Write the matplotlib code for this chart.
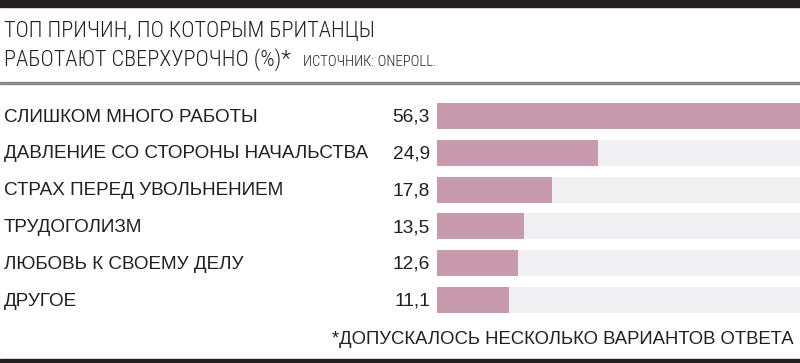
import matplotlib
matplotlib.use("Agg")
import matplotlib.pyplot as plt
from matplotlib import font_manager as fm
from matplotlib.transforms import blended_transform_factory
from matplotlib.patches import Rectangle

categories = ["СЛИШКОМ МНОГО РАБОТЫ", "ДАВЛЕНИЕ СО СТОРОНЫ НАЧАЛЬСТВА",
              "СТРАХ ПЕРЕД УВОЛЬНЕНИЕМ", "ТРУДОГОЛИЗМ",
              "ЛЮБОВЬ К СВОЕМУ ДЕЛУ", "ДРУГОЕ"]
values = [56.3, 24.9, 17.8, 13.5, 12.6, 11.1]
value_labels = ["56,3", "24,9", "17,8", "13,5", "12,6", "11,1"]
title_lines = ["ТОП ПРИЧИН, ПО КОТОРЫМ БРИТАНЦЫ", "РАБОТАЮТ СВЕРХУРОЧНО (%)*"]
source = "ИСТОЧНИК: ONEPOLL."
footnote = "*ДОПУСКАЛОСЬ НЕСКОЛЬКО ВАРИАНТОВ ОТВЕТА"

names = {f.name for f in fm.fontManager.ttflist}
narrow = "Liberation Sans Narrow" if "Liberation Sans Narrow" in names else "Roboto Condensed" if "Roboto Condensed" in names else "Liberation Sans"
body = "Liberation Sans"

W, H = 800, 363
fig = plt.figure(figsize=(W / 100, H / 100), dpi=100)
fig.patch.set_facecolor("white")
renderer = fig.canvas.get_renderer()

def fx(px):
    return px / W

def fy(py):
    return 1 - py / H

def width_px(t):
    return t.get_window_extent(renderer=renderer).width

# top black bar, separator, bottom line
fig.patches.append(Rectangle((0, fy(7)), 1, 7 / H, transform=fig.transFigure, color="#231f20"))
fig.patches.append(Rectangle((0, fy(84)), 1, 2 / H, transform=fig.transFigure, color="#8a8a8a"))
fig.patches.append(Rectangle((0, 0), 1, 4 / H, transform=fig.transFigure, color="#231f20"))

t1 = fig.text(fx(4), fy(37), title_lines[0], fontsize=17, family=narrow, weight="light", color="#231f20", va="baseline")
fs = min(17.0, 17 * 372 / width_px(t1))
t1.set_fontsize(fs)
t2 = fig.text(fx(4), fy(66), title_lines[1], fontsize=fs, family=narrow, weight="light", color="#231f20", va="baseline")
end2 = 4 + width_px(t2)
ts = fig.text(fx(end2 + 12), fy(66), source, fontsize=11, family=narrow, weight="light", color="#231f20", va="baseline")
ts.set_fontsize(11 * 133 / width_px(ts))

pitch = 36.8
top = 116 - pitch / 2
bottom = 300 + pitch / 2
ax = fig.add_axes([fx(437), fy(bottom), fx(800) - fx(437), (bottom - top) / H])
ax.set_xlim(0, max(values))
ax.set_ylim(len(values) - 0.5, -0.5)
ax.axis("off")

ypos = list(range(len(values)))
h = 26 / pitch
ax.barh(ypos, [max(values)] * len(values), height=h, color="#f0eff1", zorder=1)
ax.barh(ypos, values, height=h, color="#c79aad", zorder=2)

tr = blended_transform_factory(fig.transFigure, ax.transData)
for y, c, vl in zip(ypos, categories, value_labels):
    ax.text(fx(4), y + 0.03, c, transform=tr, fontsize=13.6, family=body, color="#231f20", va="center", ha="left")
    ax.text(fx(430), y + 0.03, vl, transform=tr, fontsize=13.8, family=body, color="#231f20", va="center", ha="right")

fig.text(fx(794), fy(344), footnote, fontsize=13.3, family=body, color="#231f20", ha="right", va="baseline")

fig.savefig("out.png", dpi=100, facecolor="white")
